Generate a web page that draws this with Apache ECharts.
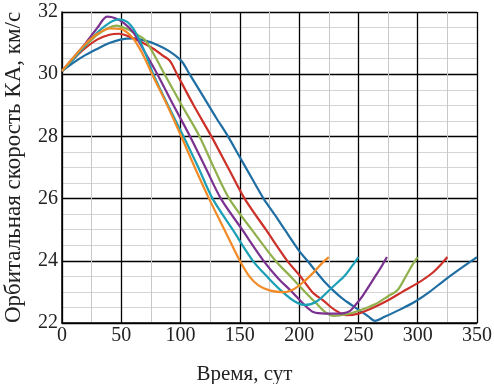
<!DOCTYPE html>
<html>
<head>
<meta charset="utf-8">
<script src="https://cdn.jsdelivr.net/npm/echarts@6/dist/echarts.min.js"></script>
<style>
    html, body { margin: 0; padding: 0; background: #fff; }
    #chart { width: 494px; height: 384px; }
</style>
</head>
<body>
<div id="chart"></div>
<script>
// данные кривых: [время, сут ; скорость, км/с]
var orangeData = [[0,30.1],[10,30.55],[20,30.98],[30,31.3],[40,31.47],[50,31.45],[60,31.15],[68,30.65],[76,30.0],[90,28.9],[100.6,28.0],[112,27.0],[124,26.0],[137,25.0],[150,24.0],[158,23.5],[166,23.2],[175,23.05],[186,22.99],[195,23.08],[204,23.33],[212,23.62],[220,23.95],[225,24.12]];
var cyanData = [[0,30.1],[10,30.5],[20,30.95],[30,31.35],[40,31.65],[48,31.76],[55,31.68],[62,31.35],[70,30.7],[77,30.0],[90,28.95],[102.5,28.0],[115,27.0],[127,26.0],[144,25.0],[161,24.0],[174,23.45],[186,23.0],[196,22.7],[205,22.58],[215,22.7],[228,23.15],[238,23.5],[245,23.85],[250,24.12]];
var purpleData = [[0,30.1],[10,30.55],[20,31.0],[30,31.5],[38,31.85],[45,31.8],[52,31.65],[60,31.35],[70,30.7],[80.4,30.0],[94,29.0],[108,28.0],[121,27.0],[134,26.0],[152,25.0],[170,24.0],[182,23.45],[194,23.0],[204,22.6],[212,22.35],[222,22.3],[232,22.3],[242,22.37],[248,22.6],[254,22.9],[264,23.49],[270,23.85],[274,24.12]];
var greenData = [[0,30.1],[10,30.52],[20,30.92],[30,31.27],[40,31.5],[46,31.56],[55,31.45],[62,31.3],[70,31.1],[78,30.6],[86.5,30.0],[101,29.0],[116,28.0],[128,27.0],[141,26.0],[160,25.0],[180,24.0],[194,23.45],[205,23.0],[214,22.65],[222,22.35],[229,22.23],[240,22.28],[252,22.42],[264,22.6],[275,22.86],[283,23.06],[290,23.5],[296,23.9],[300,24.12]];
var redData = [[0,30.1],[10,30.5],[20,30.85],[30,31.12],[40,31.27],[48,31.3],[56,31.22],[66,31.05],[77,30.82],[85,30.6],[91,30.43],[97,30.0],[111,29.0],[126,28.0],[140,27.0],[154,26.0],[172,25.0],[190,24.0],[200,23.55],[211,23.0],[221,22.7],[230,22.42],[240,22.25],[250,22.3],[260,22.45],[273,22.69],[287,23.0],[300,23.28],[312,23.6],[320,23.9],[325,24.12]];
var blueData = [[0,30.1],[10,30.38],[20,30.62],[30,30.82],[40,31.0],[50,31.12],[60,31.15],[70,31.08],[80,30.95],[90,30.75],[100.6,30.43],[107.6,30.0],[120,29.23],[130,28.6],[140,28.0],[150,27.33],[160,26.66],[170,26.0],[180,25.45],[190,24.88],[200,24.32],[207,24.0],[215,23.62],[222,23.3],[230,23.0],[238,22.74],[250,22.43],[258,22.22],[264,22.07],[272,22.2],[285,22.43],[298,22.69],[310,23.0],[323,23.39],[336,23.75],[350,24.12]];

var seriesList = [
    {name: 'blue', data: blueData, color: '#1f6ea3'},
    {name: 'red', data: redData, color: '#cc3028'},
    {name: 'green', data: greenData, color: '#8fb04c'},
    {name: 'purple', data: purpleData, color: '#7a318f'},
    {name: 'cyan', data: cyanData, color: '#1a9fb5'},
    {name: 'orange', data: orangeData, color: '#f28a25'}
];

var font = 'Liberation Serif, DejaVu Serif, serif';
var myChart = echarts.init(document.getElementById('chart'));

myChart.setOption({
    animation: false,
    backgroundColor: '#fff',
    // outerBoundsMode none - чтобы сетка не сдвигалась под подписи
    grid: { left: 62, right: 17, top: 12, bottom: 61, outerBoundsMode: 'none', containLabel: false },
    xAxis: {
        type: 'value',
        min: 0, max: 350, interval: 50,
        name: 'Время, сут',
        nameLocation: 'middle',
        nameGap: 41,
        nameTextStyle: { fontFamily: font, fontSize: 21, color: '#222', padding: [0, 50, 0, 0] },
        axisLine: { show: true, lineStyle: { color: '#000', width: 1.5 } },
        axisTick: { show: false },
        axisLabel: { fontFamily: font, fontSize: 20, color: '#222', margin: 3 },
        splitLine: { show: true, lineStyle: { color: '#000', width: 1.3 } },
        minorTick: { show: false, splitNumber: 2 },
        minorSplitLine: { show: true, lineStyle: { color: '#c8c8c8', width: 1 } }
    },
    yAxis: {
        type: 'value',
        min: 22, max: 32, interval: 2,
        name: 'Орбитальная скорость КА, км/с',
        nameLocation: 'middle',
        nameGap: 37,
        nameTextStyle: { fontFamily: font, fontSize: 23, color: '#222' },
        axisLine: { show: true, lineStyle: { color: '#000', width: 1.5 } },
        axisTick: { show: false },
        axisLabel: { fontFamily: font, fontSize: 20, color: '#222', margin: 4 },
        splitLine: { show: true, lineStyle: { color: '#000', width: 1.3 } },
        minorTick: { show: false, splitNumber: 4 },
        minorSplitLine: { show: true, lineStyle: { color: '#d4d4d4', width: 1 } }
    },
    series: seriesList.map(function (s) {
        return {
            name: s.name,
            type: 'line',
            data: s.data,
            showSymbol: false,
            smooth: 0.3,
            lineStyle: { color: s.color, width: 2.2 },
            itemStyle: { color: s.color }
        };
    })
});
</script>
</body>
</html>
